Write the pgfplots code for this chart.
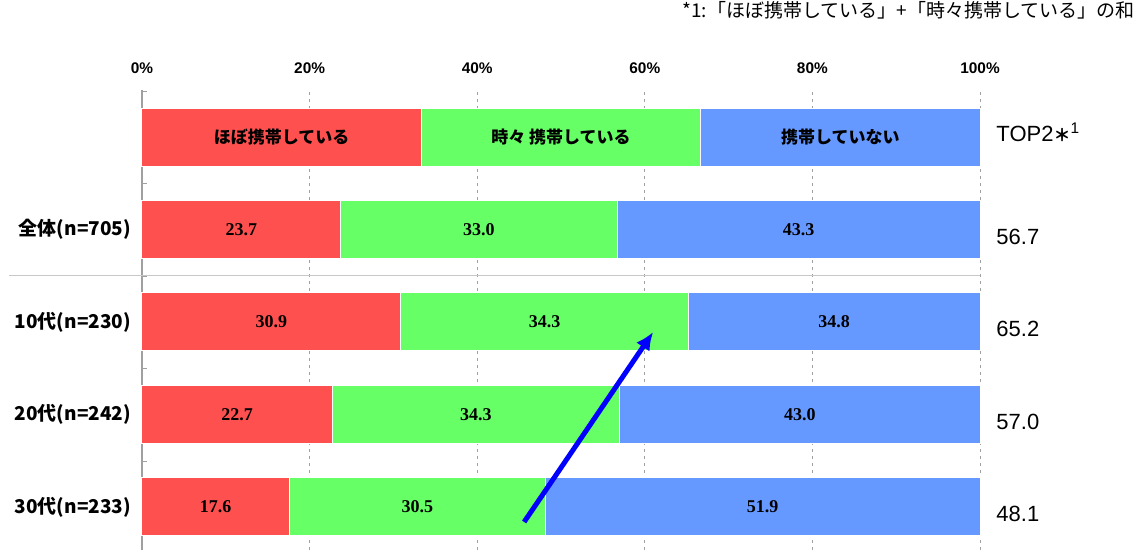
\documentclass[border=0pt]{standalone}
\usepackage{pgfplots}
\pgfplotsset{compat=1.18}
\usetikzlibrary{arrows.meta}
\usepackage{fontspec}
\setmainfont{Liberation Sans}
\newfontfamily\cjk{Noto Sans CJK JP}
\newfontfamily\numserif{Liberation Serif}
\definecolor{cRed}{RGB}{255,80,80}
\definecolor{cGreen}{RGB}{102,255,102}
\definecolor{cBlue}{RGB}{102,153,255}
\definecolor{axgray}{RGB}{160,160,160}
\definecolor{sepgray}{RGB}{200,200,200}
\protected\def\leg{\cjk\bfseries\fontsize{8.5}{10}\selectfont}

\begin{document}
\begin{tikzpicture}
\path[use as bounding box] (-71pt,0pt) rectangle (498.5pt,275pt);
\begin{axis}[
  at={(0,0)}, anchor=south west,
  scale only axis, width=419pt, height=229.75pt,
  xbar stacked, bar width=29pt,
  xmin=0, xmax=100, ymin=-0.465, ymax=4.503,
  axis x line*=top, axis y line*=left,
  x axis line style={draw=none},
  y axis line style={axgray, line width=0.6pt},
  xtick={0,20,...,100},
  xticklabels={0\%,20\%,40\%,60\%,80\%,100\%},
  xticklabel style={font=\bfseries\fontsize{7.7}{9}\selectfont},
  xticklabel shift=5pt,
  x tick style={draw=none},
  xmajorgrids,
  grid style={axgray, dash pattern=on 1.5pt off 2pt, line width=0.5pt},
  ytick={0.5,1.5,2.5,3.5,4.5},
  yticklabels={},
  y tick style={axgray},
  tick align=inside,
  major tick length=2.5pt,
  extra y ticks={0,1,2,3},
  extra y tick labels={30代(n=233),20代(n=242),10代(n=230),全体(n=705)},
  extra y tick style={major tick length=0pt},
  yticklabel style={font=\cjk\bfseries\fontsize{9.5}{11}\selectfont, xshift=-2pt},
  title={*1:「ほぼ携帯している」+「時々携帯している」の和},
  title style={at={(1.185,1)}, anchor=east, yshift=34pt, inner sep=0pt,
    font=\cjk\fontsize{9.5}{10}\selectfont},
  clip=false,
  nodes near coords,
  point meta=explicit symbolic,
  nodes near coords style={anchor=center,
    font=\numserif\bfseries\fontsize{9}{10}\selectfont, text=black},
]
\addplot[fill=cRed, draw=white, line width=0.5pt] coordinates {
  (17.6,0)[17.6] (22.7,1)[22.7] (30.9,2)[30.9] (23.7,3)[23.7] (33.333,4)[\leg ほぼ携帯している]};
\addplot[fill=cGreen, draw=white, line width=0.5pt] coordinates {
  (30.5,0)[30.5] (34.3,1)[34.3] (34.3,2)[34.3] (33.0,3)[33.0] (33.333,4)[\leg 時々 携帯している]};
\addplot[fill=cBlue, draw=white, line width=0.5pt] coordinates {
  (51.9,0)[51.9] (43.0,1)[43.0] (34.8,2)[34.8] (43.3,3)[43.3] (33.334,4)[\leg 携帯していない]};
\draw[sepgray, line width=0.6pt] (axis cs:-15.9,2.5) -- (axis cs:100,2.5);
\coordinate (arrS) at (axis cs:45.6,-0.162);
\coordinate (arrE) at (axis cs:61.0,1.892);
\end{axis}
\draw[-{Latex[length=9pt,width=8pt]}, blue, line width=2.5pt] (arrS) -- (arrE);
\begin{axis}[
  at={(0,0)}, anchor=south west,
  scale only axis, width=419pt, height=229.75pt,
  xmin=0, xmax=100, ymin=-0.465, ymax=4.503,
  hide x axis, axis y line*=right,
  y axis line style={draw=none},
  ytick={-0.075,0.925,1.925,2.925,4.05},
  yticklabels={48.1,57.0,65.2,56.7,{TOP2{\cjk\bfseries\fontsize{8.5}{8}\selectfont ＊}\textsuperscript{1}}},
  y tick style={draw=none},
  yticklabel style={font=\fontsize{11}{12}\selectfont, xshift=4.7pt},
]
\addplot[draw=none] coordinates {(0,0)};
\end{axis}
\end{tikzpicture}
\end{document}
